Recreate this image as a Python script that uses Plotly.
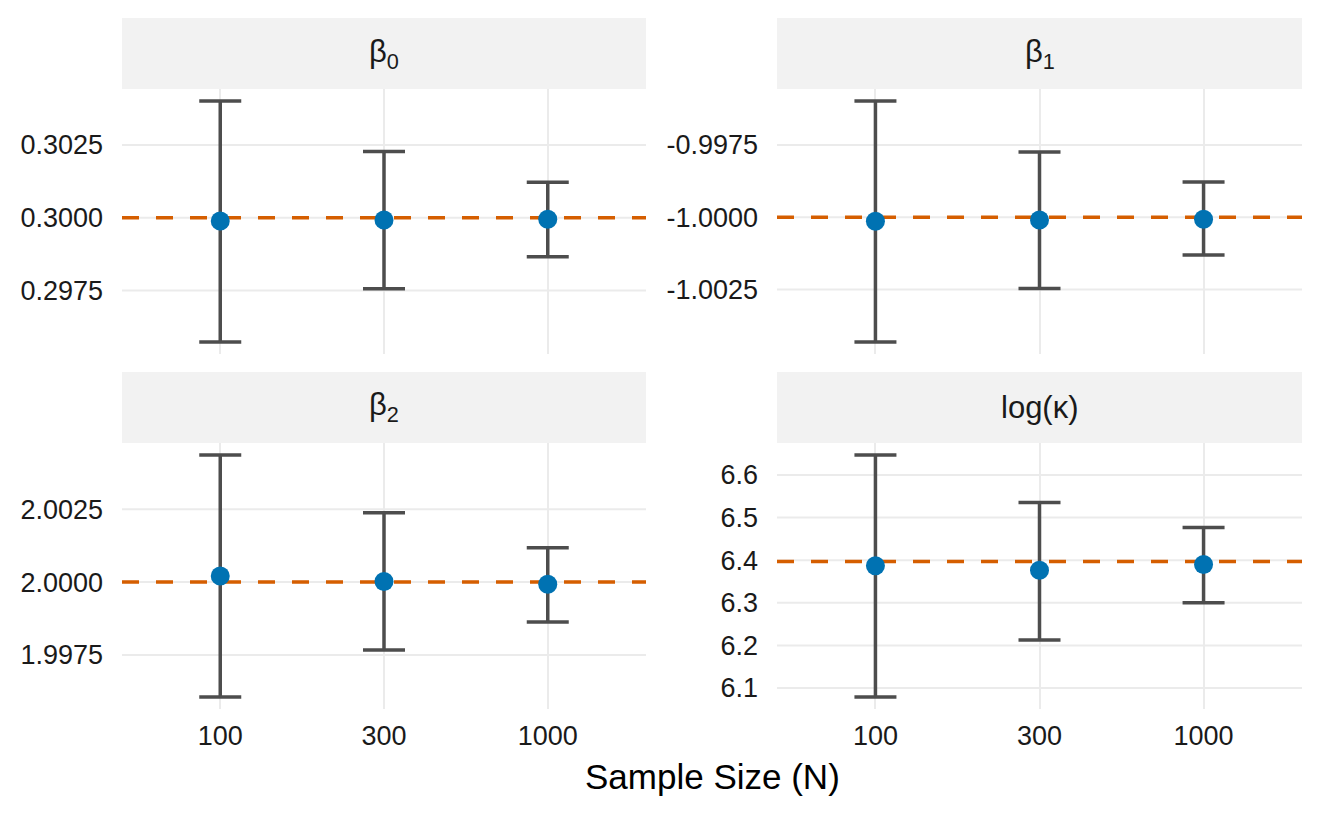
import plotly.graph_objects as go

# ---------------- data ----------------
sample_sizes = ["100", "300", "1000"]
panel_labels = ["β<sub>0</sub>", "β<sub>1</sub>", "β<sub>2</sub>", "log(κ)"]
true_values = [0.3, -1.0, 2.0, 6.397]

b0_mean = [0.29989, 0.29992, 0.29995]
b0_lower = [0.29573, 0.29756, 0.29866]
b0_upper = [0.30401, 0.30228, 0.30122]

b1_mean = [-1.00014, -1.00010, -1.00007]
b1_lower = [-1.00432, -1.00247, -1.00131]
b1_upper = [-0.99598, -0.99774, -0.99878]

b2_mean = [2.00021, 2.00002, 1.99993]
b2_lower = [1.99606, 1.99767, 1.99863]
b2_upper = [2.00436, 2.00238, 2.00118]

lk_mean = [6.3867, 6.3765, 6.3898]
lk_lower = [6.0792, 6.2130, 6.3000]
lk_upper = [6.6465, 6.5354, 6.4767]

b0_tickvals = [0.2975, 0.3000, 0.3025]
b0_ticktext = ["0.2975", "0.3000", "0.3025"]
b1_tickvals = [-1.0025, -1.0000, -0.9975]
b1_ticktext = ["-1.0025", "-1.0000", "-0.9975"]
b2_tickvals = [1.9975, 2.0000, 2.0025]
b2_ticktext = ["1.9975", "2.0000", "2.0025"]
lk_tickvals = [6.1, 6.2, 6.3, 6.4, 6.5, 6.6]
lk_ticktext = ["6.1", "6.2", "6.3", "6.4", "6.5", "6.6"]

panels = [
    (b0_mean, b0_lower, b0_upper, b0_tickvals, b0_ticktext),
    (b1_mean, b1_lower, b1_upper, b1_tickvals, b1_ticktext),
    (b2_mean, b2_lower, b2_upper, b2_tickvals, b2_ticktext),
    (lk_mean, lk_lower, lk_upper, lk_tickvals, lk_ticktext),
]

# ---------------- layout geometry ----------------
W, H = 1320, 814
def px_x(a, b):
    return [a / W, b / W]
def px_y(top, bottom):
    return [(H - bottom) / H, (H - top) / H]

x_doms = [px_x(122, 646), px_x(777, 1302), px_x(122, 646), px_x(777, 1302)]
y_doms = [px_y(89, 354), px_y(89, 354), px_y(443, 709), px_y(443, 709)]
strip_y = [px_y(18, 89), px_y(18, 89), px_y(372, 443), px_y(372, 443)]

POINT = "#0072B2"
BAR = "#4D4D4D"
REF = "#D55E00"
GRID = "#EBEBEB"
STRIP = "#F2F2F2"
FONT = "Liberation Sans"
TICK_SIZE = 27

fig = go.Figure()
layout = dict(
    width=W, height=H,
    margin=dict(l=0, r=0, t=0, b=0),
    paper_bgcolor="white", plot_bgcolor="white",
    showlegend=False,
    font=dict(family=FONT, color="#000000"),
)
shapes = []
annotations = []

for i, (mean, lo, hi, tv, tt) in enumerate(panels):
    sfx = "" if i == 0 else str(i + 1)
    xa, ya = "x" + sfx, "y" + sfx
    fig.add_trace(go.Scatter(
        x=sample_sizes, y=mean, xaxis=xa, yaxis=ya,
        mode="markers",
        marker=dict(color=POINT, size=19, line=dict(width=0)),
        error_y=dict(
            type="data", symmetric=False,
            array=[h - m for h, m in zip(hi, mean)],
            arrayminus=[m - l for m, l in zip(mean, lo)],
            color=BAR, thickness=3.5, width=21,
        ),
        hoverinfo="skip",
    ))
    dmin = min(lo + [true_values[i]])
    dmax = max(hi + [true_values[i]])
    pad = 0.05 * (dmax - dmin)
    layout["xaxis" + sfx] = dict(
        domain=x_doms[i], anchor=ya, type="category",
        categoryorder="array", categoryarray=sample_sizes,
        range=[-0.6, 2.6], showgrid=True, gridcolor=GRID, gridwidth=2,
        zeroline=False, showline=False, ticks="",
        showticklabels=(i >= 2),
        tickfont=dict(size=TICK_SIZE, color="#1A1A1A", family=FONT),
        ticklabelstandoff=8,
    )
    layout["yaxis" + sfx] = dict(
        domain=y_doms[i], anchor=xa,
        range=[dmin - pad, dmax + pad],
        tickmode="array", tickvals=tv, ticktext=tt,
        showgrid=False,
        zeroline=False, showline=False, ticks="",
        tickfont=dict(size=TICK_SIZE, color="#1A1A1A", family=FONT),
        ticklabelstandoff=18,
    )
    # horizontal grid lines (drawn as shapes so the reference line sits above them)
    for v in tv:
        shapes.append(dict(
            type="line", xref=xa + " domain", yref=ya,
            x0=0, x1=1, y0=v, y1=v,
            line=dict(color=GRID, width=2), layer="below",
        ))
    shapes.append(dict(
        type="line", xref=xa + " domain", yref=ya,
        x0=0, x1=1, y0=true_values[i], y1=true_values[i],
        line=dict(color=REF, width=3.5, dash="17px,17px"),
        layer="below",
    ))
    shapes.append(dict(
        type="rect", xref="paper", yref="paper",
        x0=x_doms[i][0], x1=x_doms[i][1], y0=strip_y[i][0], y1=strip_y[i][1],
        fillcolor=STRIP, line=dict(width=0), layer="below",
    ))
    annotations.append(dict(
        text=panel_labels[i], xref="paper", yref="paper",
        x=(x_doms[i][0] + x_doms[i][1]) / 2,
        y=(strip_y[i][0] + strip_y[i][1]) / 2,
        xanchor="center", yanchor="middle", showarrow=False,
        font=dict(size=31, color="#1A1A1A", family=FONT),
    ))

annotations.append(dict(
    text="Sample Size (N)", xref="paper", yref="paper",
    x=(122 + 1302) / 2 / W, y=(H - 776) / H,
    xanchor="center", yanchor="middle", showarrow=False,
    font=dict(size=35, color="#000000", family=FONT),
))

layout["shapes"] = shapes
layout["annotations"] = annotations
fig.update_layout(**layout)
fig.write_html(
    "out.html",
    config={"displayModeBar": False},
    post_script="document.body.style.margin='0';",
)
